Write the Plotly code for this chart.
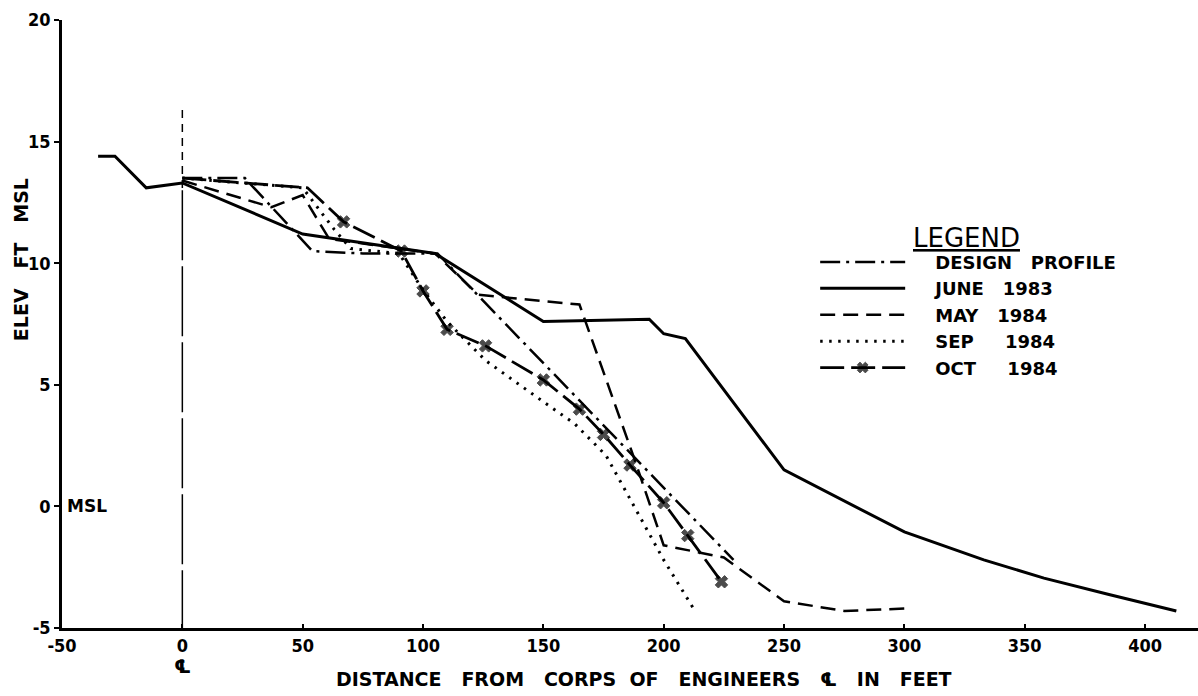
import plotly.graph_objects as go

# ---- data ----
design_x = [0, 26, 54, 75, 106, 229]
design_y = [13.5, 13.5, 10.5, 10.4, 10.4, -2.2]

june_x = [-35, -28, -15, 0, 50, 105, 150, 194, 200, 209, 250, 300, 333, 358, 385, 413]
june_y = [14.4, 14.4, 13.1, 13.3, 11.2, 10.4, 7.6, 7.7, 7.1, 6.9, 1.5, -1.05, -2.2, -2.95, -3.62, -4.3]

may_x = [0, 37, 50, 61, 105, 123, 165, 188, 200, 225, 250, 275, 300]
may_y = [13.4, 12.3, 12.8, 11.0, 10.4, 8.7, 8.3, 1.9, -1.6, -2.1, -3.9, -4.3, -4.2]

sep_x = [0, 50, 63, 70, 90, 100, 110, 126, 150, 163, 176, 200, 213]
sep_y = [13.5, 13.1, 11.4, 10.6, 10.4, 8.9, 7.6, 6.0, 4.3, 3.4, 2.1, -2.2, -4.3]

oct_x = [0, 52, 67, 91, 100, 110, 126, 150, 165, 175, 186, 200, 210, 224]
oct_y = [13.5, 13.1, 11.7, 10.5, 8.86, 7.28, 6.6, 5.2, 4.0, 2.96, 1.7, 0.15, -1.2, -3.1]

x_ticks = [-50, 0, 50, 100, 150, 200, 250, 300, 350, 400]
y_ticks = [-5, 0, 5, 10, 15, 20]

SP = "\u00a0"
names = [SP * 4 + "DESIGN" + SP * 3 + "PROFILE", SP * 4 + "JUNE" + SP * 3 + "1983",
         SP * 4 + "MAY" + SP * 3 + "1984", SP * 4 + "SEP" + SP * 5 + "1984",
         SP * 4 + "OCT" + SP * 5 + "1984"]

BLACK = "#000000"
fig = go.Figure()

fig.add_trace(go.Scatter(x=design_x, y=design_y, mode="lines", name=names[0],
                         line=dict(color=BLACK, width=2.5, dash="20px,6px,3px,6px")))
fig.add_trace(go.Scatter(x=june_x, y=june_y, mode="lines", name=names[1],
                         line=dict(color=BLACK, width=3)))
fig.add_trace(go.Scatter(x=may_x, y=may_y, mode="lines", name=names[2],
                         line=dict(color=BLACK, width=2.5, dash="15px,8px")))
fig.add_trace(go.Scatter(x=sep_x, y=sep_y, mode="lines", name=names[3],
                         line=dict(color=BLACK, width=3, dash="2.5px,6.5px")))
oct_sizes = [0, 0] + [11] * (len(oct_x) - 2)
fig.add_trace(go.Scatter(x=oct_x, y=oct_y, mode="lines+markers", name=names[4],
                         line=dict(color=BLACK, width=2.8, dash="24px,7px"),
                         marker=dict(symbol="x", size=oct_sizes, color=BLACK,
                                     line=dict(width=1, color=BLACK))))

# centre line at station 0
fig.add_shape(type="line", x0=0, x1=0, y0=16.3, y1=13.0, xref="x", yref="y",
              line=dict(color=BLACK, width=1.5, dash="8px,6px"), layer="below")
fig.add_shape(type="line", x0=0, x1=0, y0=13.0, y1=-5, xref="x", yref="y",
              line=dict(color=BLACK, width=1.5, dash="70px,6px"), layer="below")

tickfont = dict(family="DejaVu Sans Condensed", size=18, color=BLACK, weight="bold")

fig.update_xaxes(range=[-50, 422], tickvals=x_ticks, ticktext=[str(v) for v in x_ticks],
                 showgrid=False, zeroline=False, showline=True, linecolor=BLACK, linewidth=2.5,
                 ticks="inside", ticklen=4, tickwidth=2, tickcolor=BLACK, tickfont=tickfont,
                 automargin=False)
fig.update_yaxes(range=[-5, 20], tickvals=y_ticks, ticktext=[str(v) for v in y_ticks],
                 showgrid=False, zeroline=False, showline=True, linecolor=BLACK, linewidth=2.5,
                 ticks="outside", ticklen=5, tickwidth=2, tickcolor=BLACK, tickfont=tickfont,
                 automargin=False)

lab = dict(family="DejaVu Sans", size=19, color=BLACK, weight="bold")
fig.add_annotation(text=("DISTANCE" + SP * 3 + "FROM" + SP * 3 + "CORPS" + SP * 2 + "OF" + SP * 3 +
                         "ENGINEERS" + SP * 3 + "\u2104" + SP * 3 + "IN" + SP * 3 + "FEET"),
                   xref="paper", yref="paper", x=0.512, y=0, yshift=-51, showarrow=False,
                   font=lab, xanchor="center", yanchor="middle")
fig.add_annotation(text="ELEV" + SP * 3 + "FT" + SP * 3 + "MSL", xref="paper", yref="paper",
                   x=0, xshift=-41, y=0.605, showarrow=False, textangle=-90,
                   font=dict(family="DejaVu Sans", size=19, color=BLACK, weight="bold"),
                   xanchor="center", yanchor="middle")
fig.add_annotation(text="MSL", xref="x", yref="y", x=-50, y=0, xshift=3, showarrow=False,
                   xanchor="left", yanchor="middle",
                   font=dict(family="DejaVu Sans", size=17, color=BLACK, weight="bold"))
fig.add_annotation(text="\u2104", xref="x", yref="paper", x=0, y=0, yshift=-38, showarrow=False,
                   xanchor="center", yanchor="middle",
                   font=dict(family="DejaVu Sans", size=19, color=BLACK, weight="bold"))
fig.add_annotation(text="<u>LEGEND</u>", xref="paper", yref="paper", x=0.747, y=0.641,
                   showarrow=False, xanchor="left", yanchor="middle",
                   font=dict(family="DejaVu Sans", size=26, color=BLACK))

fig.update_layout(
    width=1198, height=696,
    margin=dict(l=62, r=0, t=20, b=68),
    plot_bgcolor="white", paper_bgcolor="white",
    showlegend=True,
    legend=dict(x=0.663, y=0.632, xanchor="left", yanchor="top",
                bgcolor="rgba(0,0,0,0)", font=dict(family="DejaVu Sans", size=18, color=BLACK,
                                                   weight="bold"),
                itemwidth=85, tracegroupgap=0),
)

fig.write_html("out.html", config={"displayModeBar": False},
               post_script="document.body.style.margin='0px';document.body.style.overflow='hidden';")
